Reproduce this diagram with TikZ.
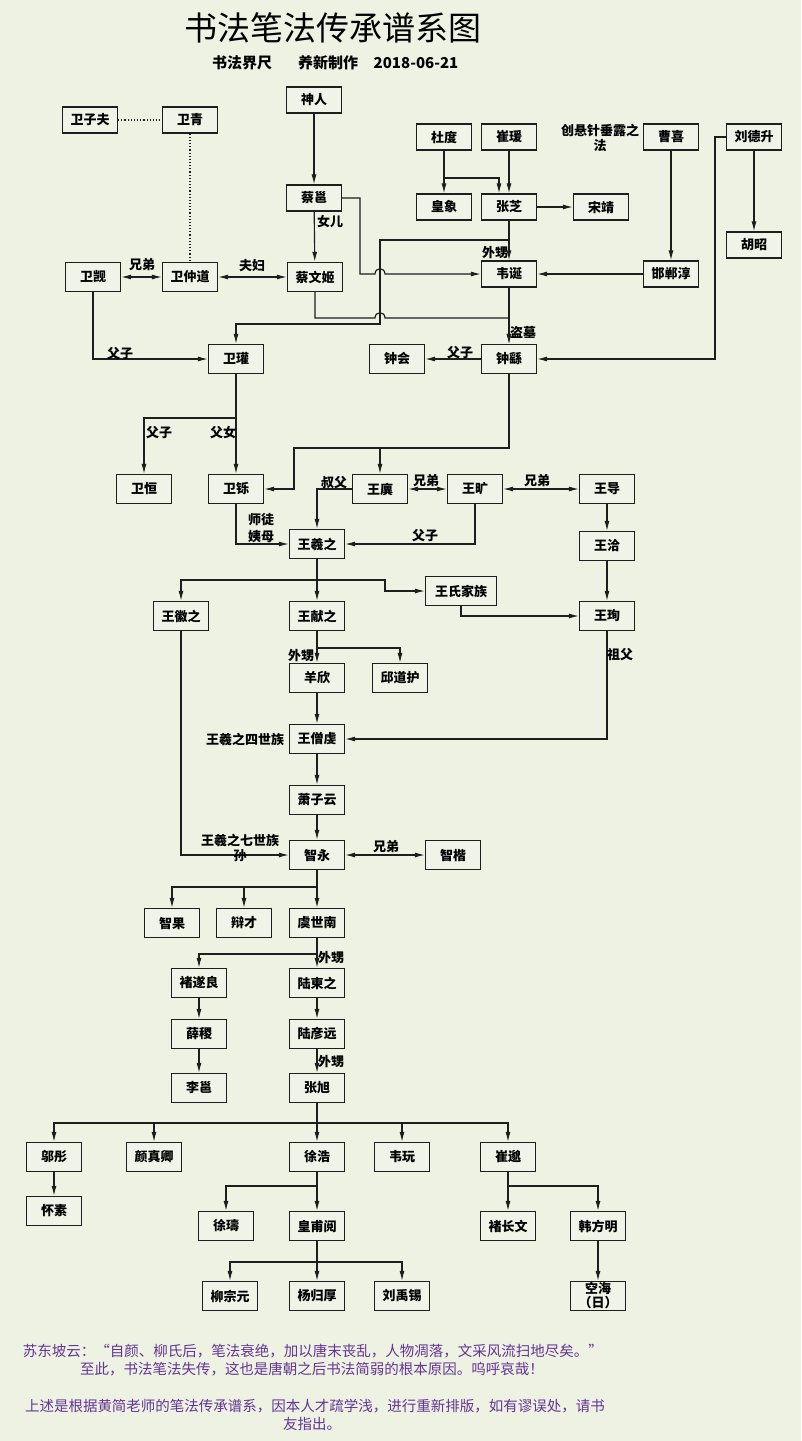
\documentclass[tikz,border=0pt]{standalone}
\usepackage{fontspec}
\newfontfamily\cjk{Noto Sans CJK SC}
\usetikzlibrary{arrows.meta}
\definecolor{bg}{RGB}{237,242,226}
\definecolor{boxfill}{RGB}{240,244,232}
\definecolor{txtpurple}{RGB}{100,52,150}
\definecolor{ink}{RGB}{30,30,30}
\begin{document}
\begin{tikzpicture}[x=1pt,y=-1pt,
  pbox/.style={draw=ink, line width=1.3pt, fill=boxfill, minimum width=55pt, minimum height=29pt, inner sep=0pt, align=center, font=\cjk\bfseries\fontsize{13}{14}\selectfont},
  tbox/.style={pbox, minimum height=26pt},
  lab/.style={inner sep=0pt, align=center, font=\cjk\bfseries\fontsize{13}{15}\selectfont},
  conn/.style={line width=1.15pt, draw=ink},
  arr/.style={conn, -{Latex[length=10pt,width=5pt]}},
  darr/.style={conn, {Latex[length=10pt,width=5pt]}-{Latex[length=10pt,width=5pt]}},
  note/.style={inner sep=0pt, text=txtpurple, font=\cjk\fontsize{14.5}{16}\selectfont}
]
\fill[bg] (0,0) rectangle (801,1441);
\useasboundingbox (0,0) rectangle (801,1441);

% title
\node[inner sep=0pt, font=\cjk\fontsize{33}{36}\selectfont] (title) at (333,28) {书法笔法传承谱系图};
\node[inner sep=0pt, font=\cjk\bfseries\fontsize{15}{16}\selectfont] (sub1) at (242,63) {书法界尺};
\node[inner sep=0pt, font=\cjk\bfseries\fontsize{15}{16}\selectfont] (sub2) at (328,63) {养新制作};
\node[inner sep=0pt, font=\cjk\bfseries\fontsize{15}{16}\selectfont] (sub3) at (416,63) {2018-06-21};

% nodes
\node[tbox] (wzf) at (90,120) {卫子夫};
\node[tbox] (wq) at (190,120) {卫青};
\node[tbox] (sr) at (314,100) {神人};
\node[tbox] (dd) at (444,137) {杜度};
\node[tbox] (cy) at (509,137) {崔瑗};
\node[lab] (cxlab) at (600,138) {创悬针垂露之\\法};
\node[tbox] (cx) at (671,137) {曹喜};
\node[tbox] (lds) at (754,137) {刘德升};
\node[tbox] (cyong) at (314,198) {蔡邕};
\node[tbox] (hx) at (444,207) {皇象};
\node[tbox] (zz) at (509,207) {张芝};
\node[tbox] (sj) at (601,207) {宋靖};
\node[tbox] (hz) at (754,245) {胡昭};
\node[pbox] (wj) at (93,277) {卫觊};
\node[pbox] (wzd) at (190,277) {卫仲道};
\node[pbox] (cwj) at (315,277) {蔡文姬};
\node[tbox] (wd) at (509,274) {韦诞};
\node[tbox] (hdc) at (671,274) {邯郸淳};
\node[pbox] (wg) at (236,359) {卫瓘};
\node[pbox] (zh) at (397,359) {钟会};
\node[pbox] (zy) at (509,359) {钟繇};
\node[pbox] (wh) at (144,489) {卫恒};
\node[pbox] (ws) at (236,489) {卫铄};
\node[pbox] (wy) at (380,489) {王廙};
\node[pbox] (wk) at (475,489) {王旷};
\node[pbox] (wdao) at (607,489) {王导};
\node[pbox] (wxz) at (317,544) {王羲之};
\node[pbox] (wqia) at (607,546) {王洽};
\node[pbox] (whz) at (181,616) {王徽之};
\node[pbox] (wxianz) at (317,616) {王献之};
\node[pbox, minimum width=71pt] (wsjz) at (461,591) {王氏家族};
\node[pbox] (wxun) at (607,616) {王珣};
\node[pbox] (yx) at (317,678) {羊欣};
\node[pbox] (qdh) at (400,678) {邱道护};
\node[pbox] (wsq) at (317,739) {王僧虔};
\node[pbox] (xzy) at (317,800) {萧子云};
\node[pbox] (zyong) at (317,855) {智永};
\node[pbox] (zk) at (453,855) {智楷};
\node[pbox] (zg) at (172,923) {智果};
\node[pbox] (bc) at (244,923) {辩才};
\node[pbox] (ysn) at (317,923) {虞世南};
\node[pbox] (csl) at (199,983) {褚遂良};
\node[pbox] (ldz) at (317,983) {陆柬之};
\node[pbox] (xj) at (199,1034) {薛稷};
\node[pbox] (lyy) at (317,1034) {陆彦远};
\node[pbox] (ly) at (199,1088) {李邕};
\node[pbox] (zx) at (317,1088) {张旭};
\node[pbox] (wt) at (54,1157) {邬彤};
\node[pbox] (yzq) at (154,1157) {颜真卿};
\node[pbox] (xh) at (317,1157) {徐浩};
\node[pbox] (ww) at (402,1157) {韦玩};
\node[pbox] (cm) at (508,1157) {崔邈};
\node[pbox] (hs) at (54,1211) {怀素};
\node[pbox] (xs) at (226,1226) {徐璹};
\node[pbox] (hpy) at (317,1226) {皇甫阅};
\node[pbox] (czw) at (508,1226) {褚长文};
\node[pbox] (hfm) at (598,1226) {韩方明};
\node[pbox] (lzy) at (230,1296) {柳宗元};
\node[pbox] (ygh) at (317,1296) {杨归厚};
\node[pbox] (lyx) at (402,1296) {刘禹锡};
\node[pbox, font=\cjk\bfseries\fontsize{13}{14}\selectfont] (kh) at (598,1296) {空海\\（日）};

% connectors: top
\draw[conn, dotted, line width=1.2pt] (wzf) -- (wq);
\draw[conn, dotted, line width=1.2pt] (wq) -- (wzd);
\draw[arr] (sr) -- (cyong);
\draw[arr] (dd) -- (hx);
\coordinate (ddb) at (444,178);
\draw[arr] (ddb) -| ([xshift=-10pt]zz.north);
\draw[arr] (cy) -- (zz);
\draw[arr] (zz) -- (sj);
\draw[arr] (cx) -- (hdc);
\draw[arr] (lds) -- (hz);
\draw[arr] (lds.west) -- (715,137) |- (zy.east);
\draw[arr] (hdc) -- (wd);
\draw[arr] (zz) -- (wd);
\node[lab] (l1) at (495,253) {外甥};
\draw[arr] (zz.south) |- (380,240) -- (380,324) -| (wg.north);
\draw[arr] (cyong.east) -| (360,274) -- (375,274) .. controls (375,267) and (385,267) .. (385,274) -- (wd.west);
\draw[arr] (cwj.south) |- (375,318) .. controls (375,311) and (385,311) .. (385,318) -| (zy.north);
\draw[arr] (wd) -- (zy);
\node[lab] (l2) at (523,332) {盗墓};
\draw[arr] (cyong) -- (cwj);
\node[lab] (l3) at (330,222) {女儿};
\draw[darr] (wj) -- (wzd);
\node[lab] (l4) at (142,265) {兄弟};
\draw[darr] (wzd) -- (cwj);
\node[lab] (l5) at (252,266) {夫妇};
\draw[arr] (wj.south) |- (wg.west);
\node[lab] (l6) at (120,354) {父子};
\draw[arr] (zy) -- (zh);
\node[lab] (l7) at (460,353) {父子};

% middle
\draw[arr] (wg) -- (ws);
\coordinate (wgb) at (236,418);
\draw[arr] (wgb) -| (wh.north);
\node[lab] (l8) at (159,433) {父子};
\node[lab] (l9) at (223,433) {父女};
\draw[arr] (zy.south) |- (294,448) |- (ws.east);
\draw[arr] (380,448) -- (wy.north);
\draw[darr] (wy) -- (wk);
\node[lab] (l10) at (426,481) {兄弟};
\draw[darr] (wk) -- (wdao);
\node[lab] (l11) at (537,481) {兄弟};
\draw[arr] (wy.west) -| (wxz.north);
\node[lab] (l12) at (334,483) {叔父};
\draw[arr] (ws.south) |- (wxz.west);
\node[lab] (l13) at (261,528) {师徒\\[2pt]姨母};
\draw[arr] (wk.south) |- (wxz.east);
\node[lab] (l14) at (425,536) {父子};
\draw[arr] (wdao) -- (wqia);

\draw[arr] (wxz) -- (wxianz);
\coordinate (wxzb) at (317,580);
\draw[arr] (wxzb) -| (whz.north);
\draw[arr] (wxzb) -- (385,580) |- (wsjz.west);
\draw[arr] (wqia) -- (wxun);
\draw[arr] (wsjz.south) |- (wxun.west);
\draw[arr] (wxianz) -- (yx);
\coordinate (wxb) at (317,648);
\draw[arr] (wxb) -| (qdh.north);
\node[lab] (l15) at (301,656) {外甥};
\draw[arr] (yx) -- (wsq);
\node[lab] (l16) at (245,739) {王羲之四世族};
\draw[arr] (wxun.south) |- (wsq.east);
\node[lab] (l17) at (620,655) {祖父};
\draw[arr] (wsq) -- (xzy);
\draw[arr] (xzy) -- (zyong);
\draw[arr] (whz.south) |- (zyong.west);
\node[lab] (l18) at (240,848) {王羲之七世族\\孙};
\draw[darr] (zyong) -- (zk);
\node[lab] (l19) at (386,847) {兄弟};

% lower
\draw[arr] (zyong) -- (ysn);
\coordinate (zyb) at (317,887);
\draw[arr] (zyb) -| (zg.north);
\draw[arr] (zyb) -| (bc.north);
\draw[arr] (ysn) -- (ldz);
\coordinate (ysb) at (317,954);
\draw[arr] (ysb) -| (csl.north);
\node[lab] (l20) at (331,958) {外甥};
\draw[arr] (csl) -- (xj);
\draw[arr] (xj) -- (ly);
\draw[arr] (ldz) -- (lyy);
\draw[arr] (lyy) -- (zx);
\node[lab] (l21) at (331,1062) {外甥};
\draw[arr] (zx) -- (xh);
\coordinate (zxb) at (317,1123);
\draw[arr] (zxb) -| (wt.north);
\draw[arr] (zxb) -| (yzq.north);
\draw[arr] (zxb) -| (ww.north);
\draw[arr] (zxb) -| (cm.north);
\draw[arr] (wt) -- (hs);
\draw[arr] (xh) -- (hpy);
\coordinate (xhb) at (317,1186);
\draw[arr] (xhb) -| (xs.north);
\draw[arr] (hpy) -- (ygh);
\coordinate (hpb) at (317,1262);
\draw[arr] (hpb) -| (lzy.north);
\draw[arr] (hpb) -| (lyx.north);
\draw[arr] (cm) -- (czw);
\coordinate (cmb) at (508,1186);
\draw[arr] (cmb) -| (hfm.north);
\draw[arr] (hfm) -- (kh);

% notes
\node[note] (n1) at (313,1351) {苏东坡云：“自颜、柳氏后，笔法衰绝，加以唐末丧乱，人物凋落，文采风流扫地尽矣。”};
\node[note] (n2) at (312,1369) {至此，书法笔法失传，这也是唐朝之后书法简弱的根本原因。呜呼哀哉！};
\node[note] (n3) at (315,1406) {上述是根据黄简老师的笔法传承谱系，因本人才疏学浅，进行重新排版，如有谬误处，请书};
\node[note] (n4) at (312,1424) {友指出。};
\end{tikzpicture}
\end{document}
